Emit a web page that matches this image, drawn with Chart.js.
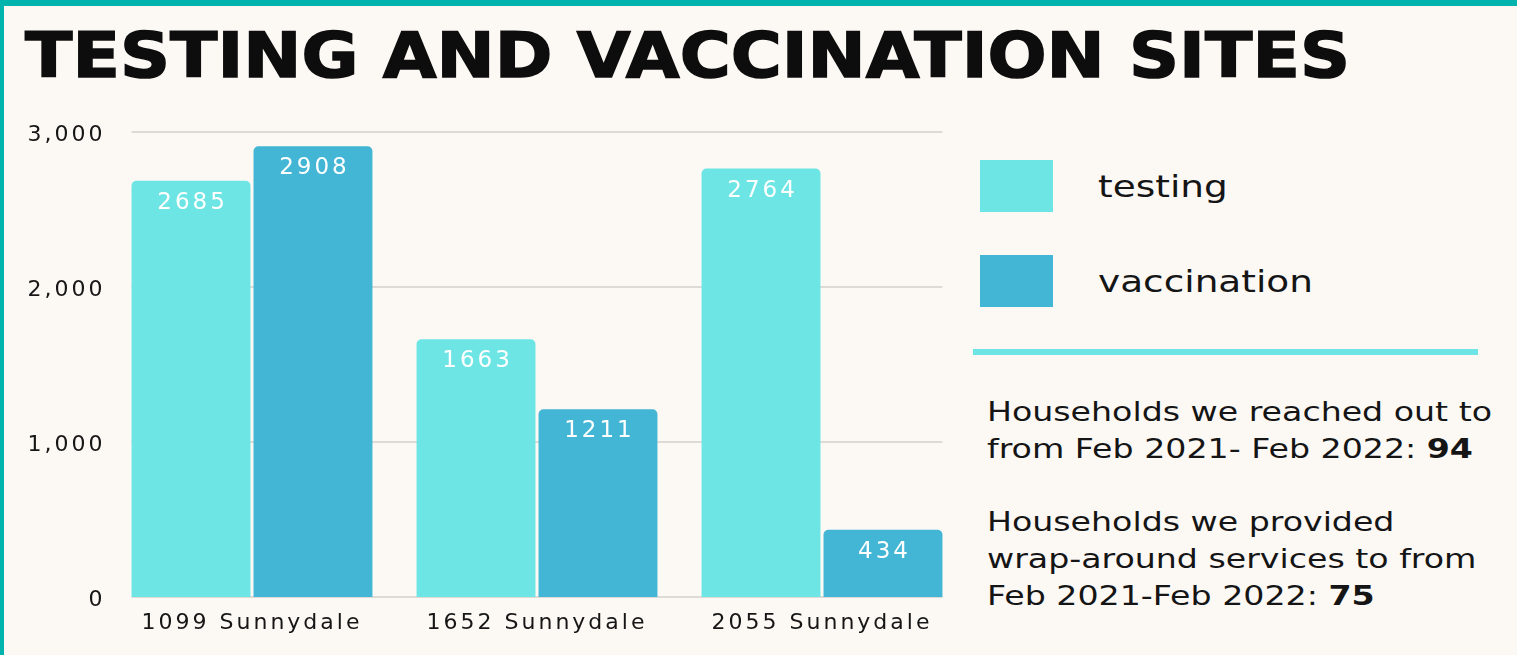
<!DOCTYPE html>
<html><head><meta charset="utf-8">
<script src="https://cdn.jsdelivr.net/npm/chart.js@4/dist/chart.umd.min.js"></script>
<style>
html,body{margin:0;padding:0;}
body{width:1517px;height:655px;background:#fcf9f5;position:relative;overflow:hidden;font-family:"DejaVu Sans",sans-serif;color:#151515;}
#topbar{position:absolute;left:0;top:0;width:1517px;height:6px;background:#00b3ad;}
#leftbar{position:absolute;left:0;top:0;width:4px;height:655px;background:#00b3ad;}
#title{position:absolute;left:25px;top:24px;font-weight:bold;font-size:63px;line-height:63px;white-space:nowrap;transform-origin:left top;color:#0d0d0d;-webkit-text-stroke:1.5px #0d0d0d;}
#wrap{position:absolute;left:0;top:110px;width:970px;height:545px;}
.lgsw{position:absolute;left:980px;width:73px;height:52px;}
.lgtx{position:absolute;left:1098px;font-size:31px;line-height:31px;white-space:nowrap;transform-origin:left top;}
#rule{position:absolute;left:973px;top:349px;width:505px;height:6px;background:#6ee5e5;}
.note{position:absolute;left:987px;font-size:26px;line-height:37px;white-space:nowrap;transform-origin:left top;}
.note b{font-weight:bold;}
</style></head>
<body>
<div id="topbar"></div><div id="leftbar"></div>
<div id="title">TESTING AND VACCINATION SITES</div>
<div id="wrap"><canvas id="c"></canvas></div>
<div id="legend"></div>
<div id="rule"></div>
<div class="note" id="n1" style="top:394px">Households we reached out to<br>from Feb 2021- Feb 2022: <b>94</b></div>
<div class="note" id="n2" style="top:504px">Households we provided<br>wrap-around services to from<br>Feb 2021-Feb 2022: <b>75</b></div>
<script>
const categories = ["1099 Sunnydale", "1652 Sunnydale", "2055 Sunnydale"];
const seriesNames = ["testing", "vaccination"];
const testing = [2685, 1663, 2764];
const vaccination = [2908, 1211, 434];
const yTicks = [0, 1000, 2000, 3000];
const colors = ["#6ee5e5", "#42b6d4"];

// legend from series
const lg = document.getElementById('legend');
const lgTop = [160, 255];
seriesNames.forEach((n, i) => {
  const sw = document.createElement('div');
  sw.className = 'lgsw'; sw.style.top = lgTop[i] + 'px'; sw.style.background = colors[i];
  lg.appendChild(sw);
  const t = document.createElement('div');
  t.className = 'lgtx'; t.style.top = (lgTop[i] + 11) + 'px'; t.textContent = n; t.id = 'lg' + i;
  lg.appendChild(t);
});

function fitX(el, target) {
  const r = el.getBoundingClientRect();
  const s = target / r.width;
  el.style.transform = 'scaleX(' + s + ')';
  return s;
}
fitX(document.getElementById('title'), 1325);
const lgs = fitX(document.getElementById('lg1'), 215);
document.getElementById('lg0').style.transform = 'scaleX(' + lgs + ')';
// notes: scale from first line width
const n1 = document.getElementById('n1');
const probe = document.createElement('span');
probe.style.cssText = 'position:absolute;visibility:hidden;font-size:26px;white-space:nowrap;font-family:"DejaVu Sans"';
probe.textContent = 'Households we reached out to';
document.body.appendChild(probe);
const ns = 505 / probe.getBoundingClientRect().width;
n1.style.transform = 'scaleX(' + ns + ')';
document.getElementById('n2').style.transform = 'scaleX(' + ns + ')';

const LS = '3px';
const spacing = {
  id: 'spacing',
  beforeLayout(chart) { chart.ctx.letterSpacing = LS; },
  beforeDraw(chart) { chart.ctx.letterSpacing = LS; }
};
const grid = {
  id: 'grid',
  beforeDatasetsDraw(chart) {
    const ctx = chart.ctx, y = chart.scales.y;
    const m0 = chart.getDatasetMeta(0).data[0];
    const m1 = chart.getDatasetMeta(1).data;
    const x0 = m0.x - m0.width / 2, x1 = m1[m1.length - 1].x + m1[m1.length - 1].width / 2;
    ctx.save();
    ctx.strokeStyle = '#dedbd6'; ctx.lineWidth = 2;
    yTicks.forEach(v => {
      const py = Math.round(y.getPixelForValue(v));
      ctx.beginPath(); ctx.moveTo(x0, py); ctx.lineTo(x1, py); ctx.stroke();
    });
    ctx.restore();
  }
};
const valueLabels = {
  id: 'valueLabels',
  afterDatasetsDraw(chart) {
    const ctx = chart.ctx;
    ctx.save();
    ctx.letterSpacing = '3px';
    ctx.fillStyle = '#ffffff';
    ctx.font = '23px "DejaVu Sans"';
    ctx.textAlign = 'center'; ctx.textBaseline = 'middle';
    chart.data.datasets.forEach((ds, di) => {
      chart.getDatasetMeta(di).data.forEach((bar, i) => {
        ctx.fillText(String(ds.data[i]), bar.x + 1.5, bar.y + 22);
      });
    });
    ctx.restore();
  }
};

new Chart(document.getElementById('c'), {
  type: 'bar',
  data: {
    labels: categories,
    datasets: [
      { label: seriesNames[0], data: testing, backgroundColor: colors[0] },
      { label: seriesNames[1], data: vaccination, backgroundColor: colors[1] }
    ]
  },
  options: {
    responsive: true, maintainAspectRatio: false, animation: false,
    layout: { padding: { left: 0, right: 5.5, top: 22, bottom: 0 } },
    datasets: { bar: { categoryPercentage: 0.856, barPercentage: 0.975, borderRadius: 5, borderSkipped: 'start' } },
    plugins: { legend: { display: false }, tooltip: { enabled: false } },
    scales: {
      x: {
        grid: { display: false, drawTicks: false }, border: { display: false },
        ticks: { color: '#161616', font: { family: 'DejaVu Sans', size: 22 }, padding: 13, maxRotation: 0 },
        afterFit(s) { s.height = 58; }
      },
      y: {
        min: 0, max: 3000,
        afterBuildTicks(s) { s.ticks = yTicks.map(v => ({ value: v })); },
        grid: { display: false, drawTicks: false }, border: { display: false },
        ticks: { color: '#161616', font: { family: 'DejaVu Sans', size: 22 }, padding: 4, labelOffset: 3,
          callback: v => v.toLocaleString('en-US') },
        afterFit(s) { s.width = 109.5; }
      }
    }
  },
  plugins: [spacing, grid, valueLabels]
});
</script>
</body></html>
